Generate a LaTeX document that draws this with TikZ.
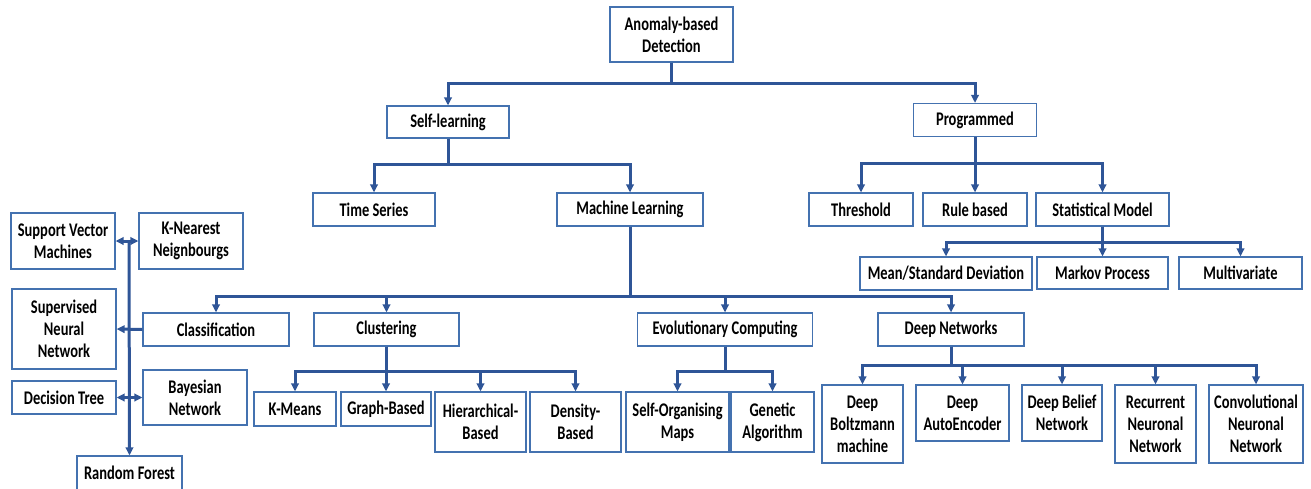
\documentclass[tikz,border=0pt]{standalone}
\usepackage{fontspec}
\setmainfont{Carlito}[FakeStretch=0.75]
\usepackage{tikz}
\usetikzlibrary{arrows.meta}
\definecolor{linkblue}{RGB}{47,85,151}
\definecolor{boxblue}{RGB}{68,114,176}
\tikzstyle{block} = [rectangle, draw=boxblue, line width=1.2pt, fill=white, align=center, inner sep=0pt, font=\fontsize{19.3}{22}\selectfont\bfseries]
\tikzstyle{arrow} = [-{Triangle[length=8pt,width=7.5pt]}, draw=linkblue, line width=3pt]
\tikzstyle{dblarrow} = [{Triangle[length=8pt,width=7.5pt]}-{Triangle[length=8pt,width=7.5pt]}, draw=linkblue, line width=3pt]

\begin{document}
\begin{tikzpicture}[x=1pt, y=-1pt]

    \path [use as bounding box, fill=white] (0,0) rectangle (1311,488);

    % top levels
    \node (ad) [block, minimum width=123, minimum height=55] at (671.5,34.5) {Anomaly-based\\Detection};
    \node (sl) [block, minimum width=122, minimum height=32] at (448,122) {Self-learning};
    \node (prog) [block, minimum width=123, minimum height=33] at (975,120) {Programmed};
    \node (ts) [block, minimum width=122, minimum height=33] at (374,209.5) {Time Series};
    \node (ml) [block, minimum width=146, minimum height=33] at (630,209.5) {Machine Learning};
    \node (thr) [block, minimum width=104, minimum height=33] at (861,209.5) {Threshold};
    \node (rb) [block, minimum width=104, minimum height=33] at (975,209.5) {Rule based};
    \node (sm) [block, minimum width=133, minimum height=33] at (1102.5,209.5) {Statistical Model};
    \node (msd) [block, minimum width=172, minimum height=33] at (946,273.5) {Mean/Standard Deviation};
    \node (mp) [block, minimum width=131, minimum height=32] at (1102.5,273) {Markov Process};
    \node (mv) [block, minimum width=123, minimum height=32] at (1240.5,273) {Multivariate};

    % machine learning families
    \node (cl) [block, minimum width=146, minimum height=33] at (216,329.5) {Classification};
    \node (clu) [block, minimum width=145, minimum height=33] at (386.5,329.5) {Clustering};
    \node (ec) [block, minimum width=175, minimum height=33] at (725,329.5) {Evolutionary Computing};
    \node (dn) [block, minimum width=146, minimum height=33] at (951,329.5) {Deep Networks};

    \node (km) [block, minimum width=82, minimum height=34] at (295,409) {K-Means};
    \node (gb) [block, minimum width=90, minimum height=34] at (386,409) {Graph-Based};
    \node (hb) [block, minimum width=91, minimum height=60] at (480.5,422) {Hierarchical-\\Based};
    \node (db) [block, minimum width=91, minimum height=60] at (575.5,422) {Density-\\Based};
    \node (som) [block, minimum width=103, minimum height=60] at (677.5,422) {Self-Organising\\Maps};
    \node (ga) [block, minimum width=83, minimum height=60] at (772.5,422) {Genetic\\Algorithm};

    \node (dbm) [block, minimum width=81, minimum height=78] at (862.5,424) {Deep\\Boltzmann\\machine};
    \node (dae) [block, minimum width=93, minimum height=56] at (962.5,413) {Deep\\AutoEncoder};
    \node (dbn) [block, minimum width=80, minimum height=56] at (1062,413) {Deep Belief\\Network};
    \node (rnn) [block, minimum width=81, minimum height=78] at (1155.5,424) {Recurrent\\Neuronal\\Network};
    \node (cnn) [block, minimum width=94, minimum height=78] at (1256,424) {Convolutional\\Neuronal\\Network};

    % classification methods
    \node (svm) [block, minimum width=104, minimum height=56] at (63,241) {Support Vector\\Machines};
    \node (knn) [block, minimum width=104, minimum height=56] at (191,241) {K-Nearest\\Neignbourgs};
    \node (snn) [block, minimum width=104, minimum height=80] at (64,329) {Supervised\\Neural\\Network};
    \node (dt) [block, minimum width=104, minimum height=33] at (64,397.5) {Decision Tree};
    \node (bn) [block, minimum width=104, minimum height=55] at (195,397.5) {Bayesian\\Network};
    \node (rf) [block, minimum width=105, minimum height=34] at (129.5,473) {Random Forest};
    \coordinate (trunk) at (129,241);

    \draw [arrow] (ad.south) -- ++(0,21) -| (sl.north);
    \draw [arrow] (ad.south) -- ++(0,21) -| (prog.north);
    \draw [arrow] (sl.south) -- ++(0,26) -| (ts.north);
    \draw [arrow] (sl.south) -- ++(0,26) -| (ml.north);
    \foreach \kid in {thr, rb, sm}
        \draw [arrow] (prog.south) -- ++(0,26.5) -| (\kid.north);
    \foreach \kid in {msd, mp, mv}
        \draw [arrow] (sm.south) -- ++(0,16) -| (\kid.north);
    \foreach \kid in {cl, clu, ec, dn}
        \draw [arrow] (ml.south) -- ++(0,70) -| (\kid.north);
    \foreach \kid in {km, gb, hb, db}
        \draw [arrow] (clu.south) -- ++(0,25) -| (\kid.north);
    \foreach \kid in {som, ga}
        \draw [arrow] (ec.south) -- ++(0,25) -| (\kid.north);
    \foreach \kid in {dbm, dae, dbn, rnn, cnn}
        \draw [arrow] (dn.south) -- ++(0,19) -| (\kid.north);

    \draw [arrow] (trunk) -- (rf.north);
    \draw [arrow] (cl.west) -- (snn.east);
    \draw [dblarrow] (svm.east) -- (knn.west);
    \draw [dblarrow] (dt.east) -- (bn.west);

\end{tikzpicture}
\end{document}
